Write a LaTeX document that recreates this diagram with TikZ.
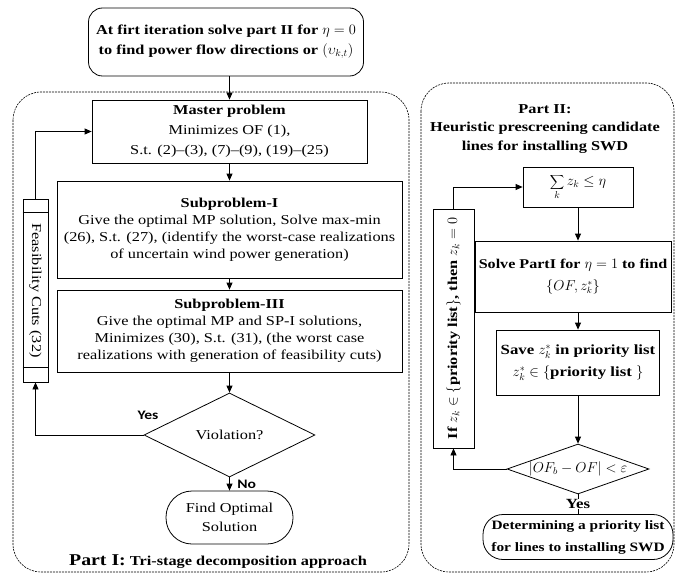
\documentclass[tikz,border=0pt]{standalone}
\usepackage{fontspec}
\setmainfont{Liberation Serif}[FakeStretch=1.2]
\newfontfamily\yesfont{Carlito}[FakeStretch=1.2]
\usetikzlibrary{shapes.geometric,arrows.meta,positioning}
\begin{document}
\begin{tikzpicture}[x=1pt,y=1pt,line width=0.8pt,
    >={Triangle[length=7pt,width=6pt]},
    font=\fontsize{13.6}{17}\selectfont,
    every node/.style={align=center, inner sep=1pt},
    procbox/.style 2 args={draw, rectangle, minimum width=#1, minimum height=#2},
    termbox/.style 2 args={draw, rectangle, rounded corners=18pt, minimum width=#1, minimum height=#2},
    decide/.style n args={3}{draw, diamond, aspect=#3, inner sep=0pt, minimum width=#1, minimum height=#2},
    region/.style={draw, dashed, dash pattern=on 2pt off 1pt, line width=0.6pt, rounded corners=28pt},
    boldtext/.style={font=\fontsize{#1}{22}\selectfont\bfseries},
    boldtext/.default=13.6,
    yeslabel/.style={font=\yesfont\fontsize{13}{15}\selectfont\bfseries}]
  \useasboundingbox (0,0) rectangle (682,-575);
  % dashed frames of the two parts
  \draw[region] (13,-92) rectangle (409,-572);
  \draw[region] (421,-83) rectangle (674,-572);

  % Part I
  \node[termbox={275}{68}, rounded corners=14pt, font=\fontsize{13.6}{20}\selectfont\bfseries] (start) at (226,-42)
    {At firt iteration solve part II for $\eta = 0$\\ to find power flow directions or $(\upsilon_{k,t})$};
  \node[procbox={275}{63}, font=\fontsize{13.6}{20}\selectfont] (mp) at (229.5,-131.5)
    {\textbf{Master problem}\\ Minimizes OF (1),\\ S.t. (2)--(3), (7)--(9), (19)--(25)};
  \node[procbox={345}{97}] (sp1) at (229.5,-229.5)
    {\textbf{Subproblem-I}\\ Give the optimal MP solution, Solve max-min\\ (26), S.t. (27), (identify the worst-case realizations\\ of uncertain wind power generation)};
  \node[procbox={345}{82}] (sp3) at (229.5,-331)
    {\textbf{Subproblem-III}\\ Give the optimal MP and SP-I solutions,\\ Minimizes (30), S.t. (31), (the worst case\\ realizations with generation of feasibility cuts)};
  \node[decide={171}{84}{2}] (viol) at (229.5,-435) {Violation?};
  \node[termbox={127}{53}, rounded corners=26pt, font=\fontsize{13.6}{19}\selectfont] (find) at (229.5,-517.5) {Find Optimal\\ Solution};
  \node[procbox={25}{183}] (feas) at (35.5,-290.5) {};
  \node[rotate=-90] (feastext) at (feas) {Feasibility Cuts (32)};
  \draw ([yshift=-14pt]feas.north west) -- ([yshift=-14pt]feas.north east);
  \draw ([yshift=15pt]feas.south west) -- ([yshift=15pt]feas.south east);
  \node[yeslabel] (yes1) at (148,-415) {Yes};
  \node[yeslabel, anchor=west] (no1) at (236,-484) {No};
  \node[boldtext] (cap1) at (218,-562)
    {{\fontsize{16.5}{18}\selectfont Part I:} Tri-stage decomposition approach};

  \draw[->] (start.south -| mp.north) -- (mp.north);
  \draw[->] (mp) -- (sp1);
  \draw[->] (sp1) -- (sp3);
  \draw[->] (sp3) -- (viol);
  \draw[->] (viol) -- (find);
  \draw[->] (viol.west) -| (feas.south);
  \draw[->] (feas.north) |- (mp.west);

  % Part II
  \node[font=\fontsize{13.6}{18.5}\selectfont\bfseries] (title2) at (545,-129)
    {Part II:\\ Heuristic prescreening candidate\\ lines for installing SWD};
  \node[procbox={110}{40}] (sumz) at (578,-187) {$\displaystyle\sum_k z_k \le \eta$};
  \node[procbox={196}{71}, boldtext=13.4] (solve) at (573,-276.5)
    {Solve PartI for $\eta = 1$ to find\\ $\left\{OF, z_k^*\right\}$};
  \node[procbox={163}{65}, boldtext=14] (save) at (578,-362.5)
    {Save $z_k^*$ in priority list\\ $z_k^* \in \left\{\mbox{priority list }\right\}$};
  \node[decide={142}{50}{3}] (conv) at (578,-469) {$\left|OF_b - OF\right| < \varepsilon$};
  \node[termbox={190}{45}, rounded corners=20pt, boldtext=12.8] (done) at (578,-537)
    {Determining a priority list\\ for lines to installing SWD};
  \node[procbox={41}{239}] (ifbox) at (453.5,-328.5) {};
  \node[rotate=90, boldtext=13.6] (iftext) at (ifbox)
    {If $z_k \in \left\{\mbox{priority list}\right\}$, then $z_k = 0$};

  \draw[->] (sumz.south) -- (sumz.south |- solve.north);
  \draw[->] (solve.south -| save) -- (save.north);
  \draw[->] (save) -- (conv);
  \draw (conv) -- (done);
  \node[boldtext=14, fill=white, inner sep=0.5pt] (yes2) at (578,-504) {Yes};
  \draw[->] (conv.west) -| (ifbox.south);
  \draw[->] (ifbox.north) |- (sumz.west);
\end{tikzpicture}
\end{document}
